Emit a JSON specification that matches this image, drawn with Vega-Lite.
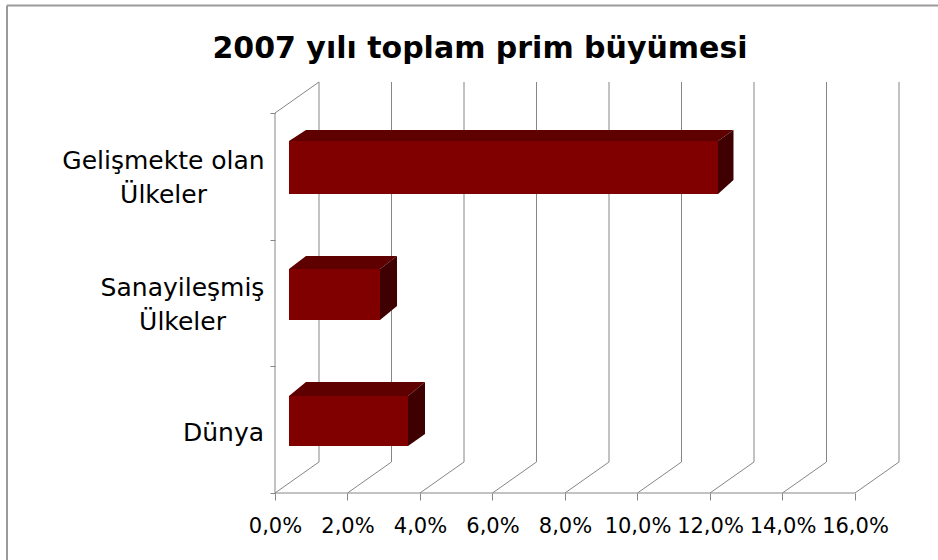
{
"$schema":"https://vega.github.io/schema/vega-lite/v6.json",
"autosize":{"type":"none"},
"padding":{"left":275,"top":82,"right":39,"bottom":67},
"width":624,"height":411,
"background":"white",
"config":{"view":{"stroke":null}},
"title":{"text":"2007 yılı toplam prim büyümesi","font":"DejaVu Sans","fontSize":30,"fontWeight":"bold","color":"#000000","anchor":"middle","frame":"group","dx":-107,"dy":82,"offset":22},
"datasets":{
"grid":[
{"w":0,"x":1.214,"x2":1.214,"y":0.245,"y2":3.245},{"w":2,"x":3.214,"x2":3.214,"y":0.245,"y2":3.245},{"w":4,"x":5.214,"x2":5.214,"y":0.245,"y2":3.245},{"w":6,"x":7.214,"x2":7.214,"y":0.245,"y2":3.245},{"w":8,"x":9.214,"x2":9.214,"y":0.245,"y2":3.245},{"w":10,"x":11.214,"x2":11.214,"y":0.245,"y2":3.245},{"w":12,"x":13.214,"x2":13.214,"y":0.245,"y2":3.245},{"w":14,"x":15.214,"x2":15.214,"y":0.245,"y2":3.245},{"w":16,"x":17.214,"x2":17.214,"y":0.245,"y2":3.245},
{"w":0,"x":0,"x2":1.214,"y":0,"y2":0.245},{"w":2,"x":2,"x2":3.214,"y":0,"y2":0.245},{"w":4,"x":4,"x2":5.214,"y":0,"y2":0.245},{"w":6,"x":6,"x2":7.214,"y":0,"y2":0.245},{"w":8,"x":8,"x2":9.214,"y":0,"y2":0.245},{"w":10,"x":10,"x2":11.214,"y":0,"y2":0.245},{"w":12,"x":12,"x2":13.214,"y":0,"y2":0.245},{"w":14,"x":14,"x2":15.214,"y":0,"y2":0.245},{"w":16,"x":16,"x2":17.214,"y":0,"y2":0.245},
{"w":"wall","x":0,"x2":1.214,"y":3,"y2":3.245},{"w":"axisY","x":0,"x2":0,"y":0,"y2":3},{"w":"axisX","x":0,"x2":16,"y":0,"y2":0}
],
"frame":[
{"x":-7.393,"x2":-7.393,"y":-0.529,"y2":3.849},{"x":-7.393,"x2":18.29,"y":3.849,"y2":3.849}
],
"bars":[
{"cat":"Gelişmekte olan Ülkeler","x":0.386,"x2":12.221,"y":2.36,"y2":2.779},
{"cat":"Sanayileşmiş Ülkeler","x":0.386,"x2":2.897,"y":1.366,"y2":1.768},
{"cat":"Dünya","x":0.386,"x2":3.669,"y":0.371,"y2":0.766}
],
"top":[
{"cat":"G","x":0.386,"y":2.779,"y2":2.779},{"cat":"G","x":0.855,"y":2.779,"y2":2.866},{"cat":"G","x":12.221,"y":2.779,"y2":2.866},{"cat":"G","x":12.648,"y":2.866,"y2":2.866},
{"cat":"S","x":0.386,"y":1.768,"y2":1.768},{"cat":"S","x":0.855,"y":1.768,"y2":1.871},{"cat":"S","x":2.897,"y":1.768,"y2":1.871},{"cat":"S","x":3.366,"y":1.871,"y2":1.871},
{"cat":"D","x":0.386,"y":0.766,"y2":0.766},{"cat":"D","x":0.855,"y":0.766,"y2":0.876},{"cat":"D","x":3.669,"y":0.766,"y2":0.876},{"cat":"D","x":4.138,"y":0.876,"y2":0.876}
],
"side":[
{"cat":"G","x":12.221,"y":2.36,"y2":2.779},{"cat":"G","x":12.648,"y":2.471,"y2":2.866},
{"cat":"S","x":2.897,"y":1.366,"y2":1.768},{"cat":"S","x":3.366,"y":1.476,"y2":1.871},
{"cat":"D","x":3.669,"y":0.371,"y2":0.766},{"cat":"D","x":4.138,"y":0.466,"y2":0.876}
]
},
"encoding":{
"x":{"field":"x","type":"quantitative","scale":{"domain":[0,17.214],"nice":false,"zero":false},
"axis":{"title":null,"grid":false,"domain":false,"values":[0,2,4,6,8,10,12,14,16],"tickSize":7,"tickColor":"#868686","tickWidth":1,"labelFont":"DejaVu Sans","labelFontSize":21,"labelColor":"#000000","labelPadding":15,"labelOverlap":false,"labelFlush":false,"labelBound":false,"labelExpr":"replace(format(datum.value,'.1f'),'.',',')+'%'"}},
"y":{"field":"y","type":"quantitative","scale":{"domain":[0,3.245],"nice":false,"zero":false},
"axis":{"title":null,"grid":false,"domain":false,"values":[0,0.5,1,1.5,2,2.5,3],"tickSize":5,"tickColor":"#868686","tickWidth":1,"tickOpacity":{"condition":{"test":"datum.value%1!==0","value":0},"value":1},"labelFont":"DejaVu Sans","labelFontSize":25,"labelColor":"#000000","labelAlign":"center","labelBaseline":"middle","labelLineHeight":34,"labelLimit":400,"labelOverlap":false,"labelBound":false,"labelFlush":false,"labelPadding":{"condition":[{"test":"datum.value===2.5","value":107},{"test":"datum.value===1.5","value":88}],"value":47},"labelOffset":{"condition":[{"test":"datum.value===2.5","value":-16},{"test":"datum.value===1.5","value":-16}],"value":3},"labelExpr":"datum.value===2.5?['Gelişmekte olan','Ülkeler']:datum.value===1.5?['Sanayileşmiş','Ülkeler']:datum.value===0.5?'Dünya':''"}}
},
"layer":[
{"data":{"name":"frame"},"mark":{"type":"rule","color":"#9a9a9a","strokeWidth":2,"clip":false},"encoding":{"x2":{"field":"x2"},"y2":{"field":"y2"}}},
{"data":{"name":"grid"},"mark":{"type":"rule","color":"#868686","strokeWidth":1,"clip":false},"encoding":{"x2":{"field":"x2"},"y2":{"field":"y2"}}},
{"data":{"name":"bars"},"mark":{"type":"rect","color":"#800000"},"encoding":{"x2":{"field":"x2"},"y2":{"field":"y2"}}},
{"data":{"name":"top"},"mark":{"type":"area","color":"#5e0000","interpolate":"linear"},"encoding":{"y2":{"field":"y2"},"detail":{"field":"cat"}}},
{"data":{"name":"side"},"mark":{"type":"area","color":"#3e0000","interpolate":"linear"},"encoding":{"y2":{"field":"y2"},"detail":{"field":"cat"}}}
]
}
